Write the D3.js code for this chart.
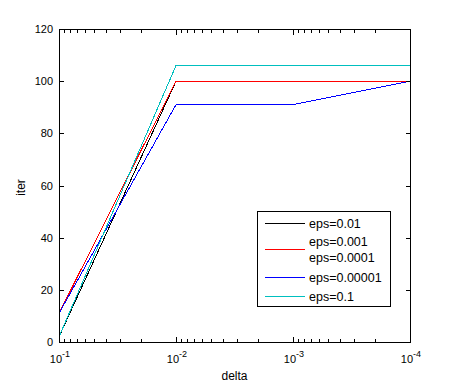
<!DOCTYPE html>
<html>
<head>
<meta charset="utf-8">
<script src="https://cdn.jsdelivr.net/npm/d3@7"></script>
<style>
  html, body { margin: 0; padding: 0; background: #fff; }
  text { font-family: "Liberation Sans", Arial, Helvetica, sans-serif; }
</style>
</head>
<body>
<svg id="chart" width="453" height="386"></svg>
<script>
// ---- data ----
const deltas = [0.1, 0.01, 0.001, 0.0001];
const seriesNames = ["eps=0.01", "eps=0.001\neps=0.0001", "eps=0.00001", "eps=0.1"];
const seriesColors = ["#000000", "#ff0000", "#0000ff", "#00bfbf"];
const iterEps001 = [2, 100, 100, 100];
const iterEps0001 = [11, 100, 100, 100];
const iterEps00001 = [11, 91, 91, 100];
const iterEps01 = [2, 106, 106, 106];
const seriesValues = [iterEps001, iterEps0001, iterEps00001, iterEps01];
const yTicks = [0, 20, 40, 60, 80, 100, 120];
const xMajorTicks = [0.1, 0.01, 0.001, 0.0001];
const xTickExponents = ["-1", "-2", "-3", "-4"];
const xLabel = "delta";
const yLabel = "iter";

// ---- layout ----
const L = 59, R = 410, T = 29, B = 342;
const svg = d3.select("#chart");
const x = d3.scaleLog().domain([0.1, 0.0001]).range([L, R]);
const y = d3.scaleLinear().domain([0, 120]).range([B, T]);

svg.append("rect").attr("width", 453).attr("height", 386).attr("fill", "#fff");

// series lines
const line = d3.line().x((d, i) => x(deltas[i])).y(d => y(d));
seriesValues.forEach((vals, k) => {
  svg.append("path")
    .datum(vals)
    .attr("d", line)
    .attr("fill", "none")
    .attr("stroke", seriesColors[k])
    .attr("stroke-width", 1)
    .attr("shape-rendering", "crispEdges");
});

// box
const ax = svg.append("g").attr("shape-rendering", "crispEdges");
ax.append("rect")
  .attr("x", L + 0.5).attr("y", T + 0.5)
  .attr("width", R - L).attr("height", B - T)
  .attr("fill", "none").attr("stroke", "#000").attr("stroke-width", 1);

// y ticks (left & right, inward)
yTicks.forEach(v => {
  const yy = Math.round(y(v)) + 0.5;
  ax.append("line").attr("x1", L).attr("x2", L + 5).attr("y1", yy).attr("y2", yy).attr("stroke", "#000");
  ax.append("line").attr("x1", R - 4).attr("x2", R + 1).attr("y1", yy).attr("y2", yy).attr("stroke", "#000");
  svg.append("text")
    .attr("x", L - 6).attr("y", y(v) + 4)
    .attr("text-anchor", "end")
    .attr("font-size", 11)
    .text(v);
});

// x ticks: major + minor (log)
const allXTicks = x.ticks();
allXTicks.forEach(v => {
  const lg = Math.log10(v);
  const major = Math.abs(lg - Math.round(lg)) < 1e-9;
  const len = major ? 5 : 3;
  const xx = Math.round(x(v)) + 0.5;
  ax.append("line").attr("x1", xx).attr("x2", xx).attr("y1", B).attr("y2", B - len).attr("stroke", "#000");
  ax.append("line").attr("x1", xx).attr("x2", xx).attr("y1", T + 1).attr("y2", T + 1 + len).attr("stroke", "#000");
});

xMajorTicks.forEach((v, i) => {
  const t = svg.append("text")
    .attr("y", B + 21)
    .attr("font-size", 11);
  t.append("tspan").text("10");
  t.append("tspan").attr("dy", -6).attr("font-size", 9).text(xTickExponents[i]);
  const w = t.node().getComputedTextLength();
  t.attr("x", x(v) - w / 2 + 1);
});

// axis labels
svg.append("text")
  .attr("x", (L + R) / 2).attr("y", 380)
  .attr("text-anchor", "middle").attr("font-size", 12)
  .text(xLabel);
svg.append("text")
  .attr("transform", `translate(25,${(T + B) / 2 + 2}) rotate(-90)`)
  .attr("text-anchor", "middle").attr("font-size", 12)
  .text(yLabel);

// legend
const lg = svg.append("g");
lg.append("rect")
  .attr("x", 257.5).attr("y", 211.5).attr("width", 133).attr("height", 95)
  .attr("fill", "#fff").attr("stroke", "#000").attr("shape-rendering", "crispEdges");
const lineYs = [223, 249, 277, 296];
seriesNames.forEach((name, k) => {
  const ly = lineYs[k];
  lg.append("line")
    .attr("x1", 265).attr("x2", 305).attr("y1", ly + 0.5).attr("y2", ly + 0.5)
    .attr("stroke", seriesColors[k]).attr("shape-rendering", "crispEdges");
  const parts = name.split("\n");
  const lh = 16.3;
  parts.forEach((p, j) => {
    lg.append("text")
      .attr("x", 309)
      .attr("y", ly + 5 + (j - (parts.length - 1) / 2) * lh)
      .attr("font-size", 12.5)
      .text(p);
  });
});
</script>
</body>
</html>
